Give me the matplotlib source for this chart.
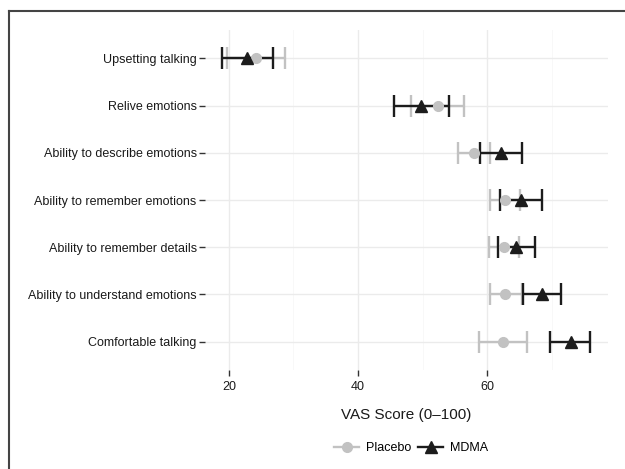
import matplotlib
matplotlib.use("Agg")
import matplotlib.pyplot as plt
from matplotlib.lines import Line2D
import numpy as np

# ── data ──────────────────────────────────────────────────────────────────
items = [
    "Upsetting talking",
    "Relive emotions",
    "Ability to describe emotions",
    "Ability to remember emotions",
    "Ability to remember details",
    "Ability to understand emotions",
    "Comfortable talking",
]
placebo_mean = [24.2, 52.3, 57.9, 62.7, 62.6, 62.7, 62.4]
placebo_lo   = [19.7, 48.2, 55.5, 60.5, 60.2, 60.4, 58.7]
placebo_hi   = [28.7, 56.4, 60.4, 65.1, 64.9, 65.4, 66.2]
mdma_mean    = [22.8, 49.8, 62.2, 65.2, 64.5, 68.5, 72.9]
mdma_lo      = [18.9, 45.6, 58.9, 62.0, 61.7, 65.6, 69.7]
mdma_hi      = [26.9, 54.1, 65.4, 68.5, 67.4, 71.4, 75.9]

PLACEBO_C = "#c2c2c2"
MDMA_C    = "#1c1c1c"

plt.rcParams["font.family"] = ["Liberation Sans", "DejaVu Sans"]

fig = plt.figure(figsize=(6.25, 4.69), dpi=100)
W, H = 625, 469
ax = fig.add_axes([205 / W, 1 - 370 / H, (608 - 205) / W, (370 - 30) / H])

y = np.arange(len(items))


def draw_series(mean, lo, hi, color, marker, ms):
    mean = np.asarray(mean)
    err = [mean - np.asarray(lo), np.asarray(hi) - mean]
    ax.errorbar(mean, y, xerr=err, fmt="none", ecolor=color, elinewidth=1.7,
                capsize=8.2, capthick=1.7, zorder=3)
    ax.plot(mean, y, linestyle="none", marker=marker, color=color,
            markersize=ms, zorder=4)


draw_series(placebo_mean, placebo_lo, placebo_hi, PLACEBO_C, "o", 7)
draw_series(mdma_mean, mdma_lo, mdma_hi, MDMA_C, "^", 8)

ax.set_xlim(16.3, 78.7)
ax.set_ylim(len(items) - 0.4, -0.6)
ax.set_yticks(y)
ax.set_yticklabels(items)
ax.set_xticks([20, 40, 60])
ax.set_xticks([30, 50, 70], minor=True)

ax.grid(True, which="major", color="#ebebeb", linewidth=1.0)
ax.grid(True, which="minor", axis="x", color="#f7f7f7", linewidth=0.6)
ax.set_axisbelow(True)
for s in ax.spines.values():
    s.set_visible(False)

ax.tick_params(axis="both", which="major", length=4, width=1, color="#333333",
               labelsize=9, labelcolor="#1a1a1a", pad=2)
ax.tick_params(axis="x", which="major", pad=4)
ax.tick_params(axis="both", which="minor", length=0)

ax.set_xlabel("VAS Score (0\u2013100)", fontsize=11, color="#1a1a1a", labelpad=11)

handles = [
    Line2D([], [], color=PLACEBO_C, marker="o", markersize=7, linewidth=1.7),
    Line2D([], [], color=MDMA_C, marker="^", markersize=8, linewidth=1.7),
]
fig.legend(handles, ["Placebo", "MDMA"], loc="center", ncol=2,
           bbox_to_anchor=(411 / W, 1 - 448 / H), frameon=False, fontsize=9,
           handlelength=2.0, handletextpad=0.5, columnspacing=0.6)

# partial outer frame (top and left edges of the original panel border)
fig.add_artist(Line2D([9 / W, 1], [1 - 11 / H, 1 - 11 / H], color="#444444",
                      linewidth=1.5, transform=fig.transFigure))
fig.add_artist(Line2D([9 / W, 9 / W], [0, 1 - 11 / H], color="#444444",
                      linewidth=1.5, transform=fig.transFigure))

fig.savefig("out.png", dpi=100)
